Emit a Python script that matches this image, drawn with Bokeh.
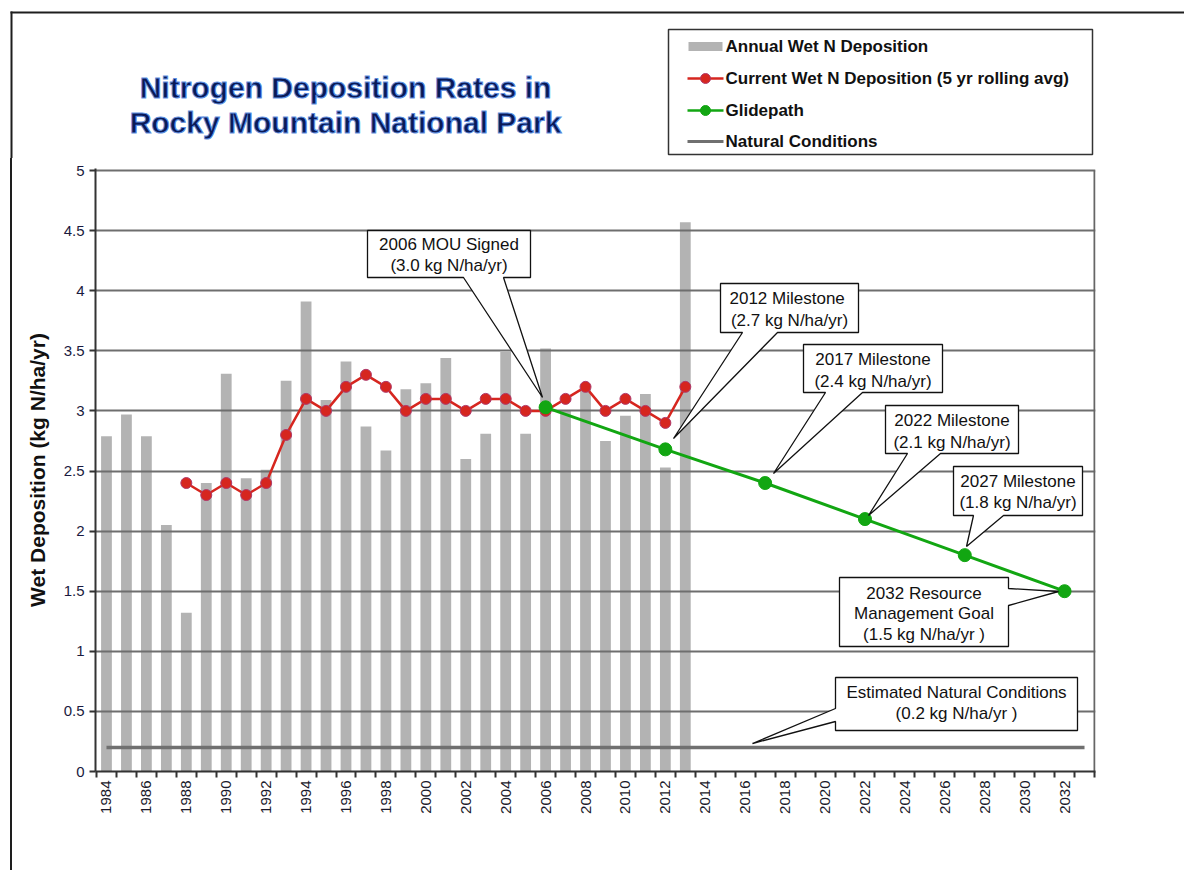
import math
from bokeh.plotting import figure
from bokeh.layouts import column, row
from bokeh.models import FixedTicker, CustomJSTickFormatter, Range1d, Div
from bokeh.core.properties import value
from bokeh.embed import file_html
from bokeh.resources import INLINE

# ---------------- data ----------------
years = list(range(1984, 2014))
annual_dep = [2.79, 2.97, 2.79, 2.05, 1.32, 2.40, 3.31, 2.44, 2.51, 3.25,
              3.91, 3.09, 3.41, 2.87, 2.67, 3.18, 3.23, 3.44, 2.60, 2.81,
              3.49, 2.81, 3.52, 3.00, 3.18, 2.75, 2.96, 3.14, 2.53, 4.57]
rolling_years = list(range(1988, 2014))
rolling_avg = [2.4, 2.3, 2.4, 2.3, 2.4, 2.8, 3.1, 3.0, 3.2, 3.3, 3.2, 3.0, 3.1,
               3.1, 3.0, 3.1, 3.1, 3.0, 3.0, 3.1, 3.2, 3.0, 3.1, 3.0, 2.9, 3.2]
glide_years = [2006, 2012, 2017, 2022, 2027, 2032]
glide_vals = [3.03, 2.68, 2.40, 2.10, 1.80, 1.50]
natural_years = [1984, 2033]
natural_vals = [0.2, 0.2]
tick_years = list(range(1984, 2033, 2))
y_ticks = [0, 0.5, 1, 1.5, 2, 2.5, 3, 3.5, 4, 4.5, 5]
title_lines = ["Nitrogen Deposition Rates in", "Rocky Mountain National Park"]
legend_labels = ["Annual Wet N Deposition",
                 "Current Wet N Deposition (5 yr rolling avg)",
                 "Glidepath", "Natural Conditions"]
y_label = "Wet Deposition (kg N/ha/yr)"

FONT = "Liberation Sans"
BAR = "#b3b3b3"
RED = "#d6261f"
GREEN = "#12a612"
NAT = "#707070"
RULE = "#1e1e1e"

# ---------------- page geometry ----------------
PAGE_W = 1184
HEAD_H = 158          # header strip (title + legend)
STRIP_W = 20          # left strip carrying the page rule
MAIN_H = 712
X0, PX0, PXU = 1983.45, 95.0, 19.96      # data x at frame left, page x, px per year
PY0, PYU = 771.0, 120.2                  # page y of value 0, px per unit
FRAME_W = 1000
FRAME_H = 603
Y_TOP = FRAME_H / PYU


def dx(px):
    return X0 + (px - PX0) / PXU


def dy(py):
    return (PY0 - py) / PYU


def blank(width, height, xr, yr):
    f = figure(width=width, height=height, output_backend="svg", toolbar_location=None,
               x_range=xr, y_range=yr, min_border=0,
               x_axis_location=None, y_axis_location=None)
    f.grid.grid_line_color = None
    f.outline_line_color = None
    f.background_fill_color = "white"
    f.border_fill_color = "white"
    return f


# ---------------- header (title + legend), page coordinates ----------------
head = blank(PAGE_W, HEAD_H, Range1d(0, PAGE_W), Range1d(HEAD_H, 0))
head.segment(x0=[10], y0=[12], x1=[PAGE_W], y1=[12], line_color=RULE, line_width=2)
head.segment(x0=[11], y0=[11], x1=[11], y1=[HEAD_H], line_color=RULE, line_width=2)

head.text(x=[345, 345], y=[87, 122], text=title_lines,
          text_align="center", text_baseline="middle", text_font=value(FONT),
          text_font_style="bold", text_font_size="30px", text_color="#0a1a55",
          text_outline_color="#5f8fe0")

rows = [46, 78, 110, 141]
head.quad(left=[668], right=[1092], top=[29], bottom=[154],
          fill_color="white", line_color="#333333", line_width=1.5)
head.quad(left=[688], right=[722], top=[rows[0] - 4.5], bottom=[rows[0] + 4.5],
          fill_color=BAR, line_color=None)
head.line([687, 723], [rows[1]] * 2, line_color=RED, line_width=2.5)
head.scatter([705], [rows[1]], size=10, fill_color=RED, line_color="#b03a6a")
head.line([687, 723], [rows[2]] * 2, line_color=GREEN, line_width=2.5)
head.scatter([705], [rows[2]], size=10, fill_color=GREEN, line_color=GREEN)
head.line([687, 723], [rows[3]] * 2, line_color=NAT, line_width=3)
head.text(x=[725] * 4, y=rows, text=legend_labels,
          text_align="left", text_baseline="middle", text_font=value(FONT),
          text_font_style="bold", text_font_size="17px", text_color="#111111")

# ---------------- left strip with the page rule (plain HTML, no frame) ----------------
strip = Div(width=STRIP_W, height=MAIN_H,
            text='<div style="margin:0 0 0 10px;padding:0;width:2px;height:%dpx;'
                 'background:%s"></div>' % (MAIN_H, RULE),
            styles={"margin": "0", "padding": "0"})

# ---------------- main chart ----------------
main_w = PAGE_W - STRIP_W
left_b = int(PX0 - STRIP_W)
top_b = int(PY0 - FRAME_H - HEAD_H)
p = figure(width=main_w, height=MAIN_H, output_backend="svg", toolbar_location=None,
           x_range=Range1d(X0, X0 + FRAME_W / PXU), y_range=Range1d(0, Y_TOP),
           min_border_left=left_b, min_border_right=main_w - left_b - FRAME_W,
           min_border_top=top_b, min_border_bottom=MAIN_H - top_b - FRAME_H)
p.outline_line_color = None
p.background_fill_color = "white"
p.border_fill_color = "white"

p.xaxis.ticker = FixedTicker(ticks=tick_years,
                             minor_ticks=[y - 0.5 for y in range(1984, 2035)])
p.xaxis.major_label_orientation = math.pi / 2
p.xaxis.major_tick_line_color = None
p.xaxis.major_tick_out = 5
p.xaxis.major_label_standoff = 3
p.xaxis.minor_tick_out = 6
p.xaxis.minor_tick_in = 0
p.xaxis.minor_tick_line_width = 2
p.xaxis.minor_tick_line_color = "#333333"
p.xaxis.axis_line_color = "#333333"
p.xaxis.axis_line_width = 2
p.xaxis.major_label_text_font = FONT
p.xaxis.major_label_text_font_size = "15px"
p.xaxis.major_label_text_color = "#1a1a2a"

p.yaxis.ticker = FixedTicker(ticks=y_ticks)
p.yaxis.formatter = CustomJSTickFormatter(code="return tick.toString();")
p.yaxis.axis_line_color = "#333333"
p.yaxis.axis_line_width = 2
p.yaxis.major_tick_out = 6
p.yaxis.major_tick_in = 0
p.yaxis.major_tick_line_width = 2
p.yaxis.major_tick_line_color = "#333333"
p.yaxis.minor_tick_line_color = None
p.yaxis.major_label_text_font = FONT
p.yaxis.major_label_text_font_size = "15px"
p.yaxis.major_label_text_color = "#1a1a40"
p.yaxis.major_label_standoff = 5
p.yaxis.axis_label = y_label
p.yaxis.axis_label_text_font = FONT
p.yaxis.axis_label_text_font_style = "bold"
p.yaxis.axis_label_text_font_size = "21px"
p.yaxis.axis_label_text_color = "#111111"
p.yaxis.axis_label_standoff = 12

p.xgrid.grid_line_color = None
p.ygrid.ticker = FixedTicker(ticks=y_ticks)
p.ygrid.grid_line_color = "#6e6e6e"
p.ygrid.grid_line_width = 2

# right edge of plot area
p.segment(x0=[2033.5], y0=[0], x1=[2033.5], y1=[5], line_color="#666666", line_width=2)

# bars (drawn under the grid)
bars = p.vbar(x=years, top=annual_dep, width=0.54, fill_color=BAR, line_color=None)
bars.level = "image"

# natural conditions
p.line(natural_years, natural_vals, line_color=NAT, line_width=3.5)

# rolling average
p.line(rolling_years, rolling_avg, line_color=RED, line_width=2.5)
p.scatter(rolling_years, rolling_avg, size=11, fill_color=RED, line_color="#b03a6a", line_width=1)

# glidepath
p.line(glide_years, glide_vals, line_color=GREEN, line_width=3)
p.scatter(glide_years, glide_vals, size=13, fill_color=GREEN, line_color=GREEN)

# ---------------- callouts ----------------
callouts = [
    dict(box=(367, 230, 530, 277), side="bottom", base=(463, 503), tip=(542, 397),
         lines=["2006 MOU Signed", "(3.0 kg N/ha/yr)"], ly=[244, 265]),
    dict(box=(720, 283, 858, 332), side="bottom", base=(742, 777), tip=(673, 438),
         lines=["2012  Milestone", "(2.7 kg N/ha/yr)"], ly=[298, 320]),
    dict(box=(803, 344, 942, 392), side="bottom", base=(825, 862), tip=(773, 473),
         lines=["2017 Milestone", "(2.4 kg N/ha/yr)"], ly=[359, 381]),
    dict(box=(885, 405, 1018, 453), side="bottom", base=(907, 940), tip=(868, 515),
         lines=["2022 Milestone", "(2.1 kg N/ha/yr)"], ly=[420, 442]),
    dict(box=(953, 466, 1082, 515), side="bottom", base=(973, 1003), tip=(966, 546),
         lines=["2027 Milestone", "(1.8 kg N/ha/yr)"], ly=[481, 502]),
    dict(box=(839, 577, 1008, 646), side="right", base=(588, 605), tip=(1058, 591),
         lines=["2032 Resource", "Management Goal", "(1.5 kg N/ha/yr )"], ly=[593, 613, 634]),
    dict(box=(835, 677, 1077, 730), side="left", base=(708, 721), tip=(752, 743),
         lines=["Estimated Natural Conditions", "(0.2 kg N/ha/yr )"], ly=[692, 713]),
]

xs, ys = [], []
tx, ty, tt = [], [], []
for c in callouts:
    x0, y0, x1, y1 = c["box"]
    b1, b2 = c["base"]
    t = c["tip"]
    if c["side"] == "bottom":
        pts = [(x0, y0), (x1, y0), (x1, y1), (b2, y1), t, (b1, y1), (x0, y1)]
    elif c["side"] == "right":
        pts = [(x0, y0), (x1, y0), (x1, b1), t, (x1, b2), (x1, y1), (x0, y1)]
    else:
        pts = [(x0, y0), (x1, y0), (x1, y1), (x0, y1), (x0, b2), t, (x0, b1)]
    xs.append([dx(a) for a, _ in pts])
    ys.append([dy(b) for _, b in pts])
    cx = (x0 + x1) / 2
    for line, lyv in zip(c["lines"], c["ly"]):
        tx.append(dx(cx))
        ty.append(dy(lyv))
        tt.append(line)

p.patches(xs, ys, fill_color="white", line_color="#111111", line_width=1.3)
p.text(x=tx, y=ty, text=tt, text_align="center", text_baseline="middle",
       text_font=value(FONT), text_font_size="17px", text_color="#111111")

layout = column(head, row(strip, p, spacing=0), spacing=0)
open("out.html", "w").write(file_html(layout, INLINE))
